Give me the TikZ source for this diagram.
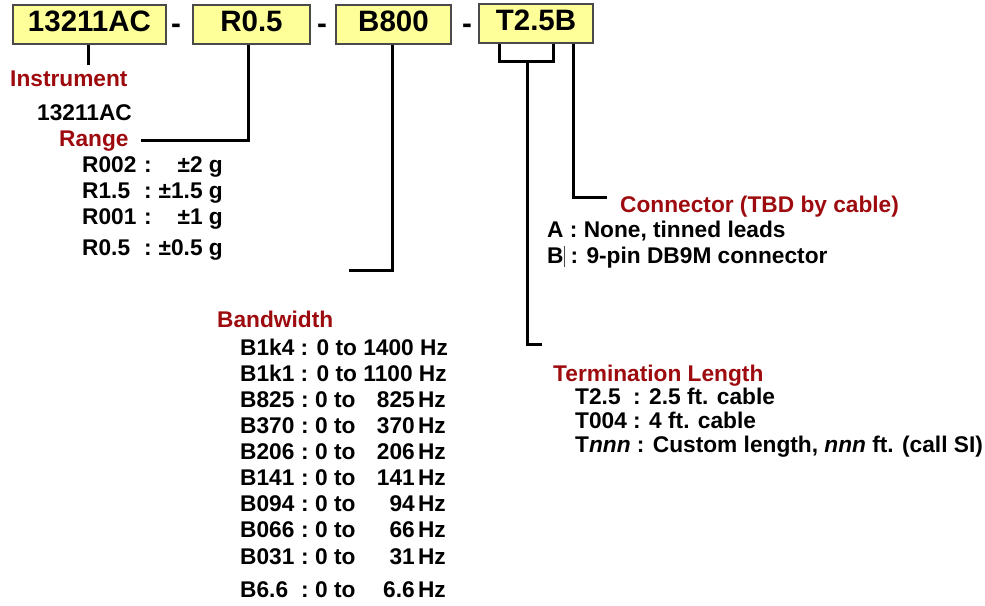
\documentclass[tikz,border=0pt]{standalone}
\usepackage{fontspec}
\setmainfont{Liberation Sans}
\usetikzlibrary{positioning,calc}
\definecolor{PartYellow}{HTML}{FFFF99}
\definecolor{PartEdge}{HTML}{4A4A4A}
\definecolor{FieldRed}{HTML}{9E0B0F}

\begin{document}
\begin{tikzpicture}[x=1pt,y=-1pt,
      field/.style={draw=PartEdge,line width=1.3pt,fill=PartYellow,
                    minimum height=39pt,inner sep=0pt,text height=20pt,text depth=6pt,
                    font=\fontsize{29.5}{31}\selectfont\bfseries},
      hyph/.style={anchor=base,inner sep=0pt,font=\fontsize{29.5}{31}\selectfont\bfseries},
      head/.style={anchor=base west,inner sep=0pt,text=FieldRed,
                   font=\fontsize{22.7}{26}\selectfont\bfseries},
      item/.style={anchor=base west,inner sep=0pt,font=\fontsize{22.7}{26}\selectfont\bfseries},
      lead/.style={line width=3pt},
    ]
    \useasboundingbox (0,0) rectangle (985,605);

    % part number fields
    \node[field,minimum width=153pt] (inst) at (89.5,24.5)  {13211AC\hspace{6pt}};
    \node[field,minimum width=117pt] (rng)  at (251.5,24.5) {R0.5};
    \node[field,minimum width=115pt] (bw)   at (393.5,24.5) {B800};
    \node[field,minimum width=114pt] (trm)  at (536,23.5)   {T2.5B};
    \node[hyph] (d1) at (176,33) {-};
    \node[hyph] (d2) at (322,33) {-};
    \node[hyph] (d3) at (467,33) {-};

    % field headings
    \node[head] (instlbl) at (10,86)  {Instrument};
    \node[item] (instval) at (37,120) {13211AC};
    \node[head] (rnglbl)  at (59,146) {Range};
    \node[head] (bwlbl)   at (217,327) {Bandwidth};
    \node[head] (conlbl)  at (620,212) {Connector (TBD by cable)};
    \node[head] (trmlbl)  at (553,381) {Termination Length};

    % leads
    \coordinate (instend) at (88,65);
    \coordinate (rngend)  at (141,140);
    \coordinate (bwend)   at (349,270);
    \coordinate (brk)     at (527,61);
    \coordinate (trmend)  at (542,344);
    \coordinate (conend)  at (607,197);
    \draw[lead] (inst.south -| instend) -- (instend);
    \draw[lead] ([xshift=-3pt]rng.south) |- (rngend);
    \draw[lead] ([xshift=-1pt]bw.south) |- (bwend);
    \draw[lead] ([xshift=-37pt]trm.south) |- (brk) -| ([xshift=17pt]trm.south);
    \draw[lead] (brk) |- (trmend);
    \draw[lead] ([xshift=37pt]trm.south) |- (conend);

    % range options
    \foreach \code/\val/\yb [count=\i] in {R002/±2 g/172,R1.5/±1.5 g/198,R001/±1 g/224,R0.5/±0.5 g/255}{
      \node[item] (rc\i) at (82,\yb) {\code};
      \node[item] (rs\i) at (144,\yb) {:};
      \node[item,anchor=base east] (rv\i) at (223,\yb) {\val};
    }

    % bandwidth options
    \node[item] (bc1) at (240,355) {B1k4 : 0 to 1400 Hz};
    \node[item] (bc2) at (240,381) {B1k1 : 0 to 1100 Hz};
    \foreach \code/\num/\yb [count=\i from 3] in {B825/825/407,B370/370/433,B206/206/459,
        B141/141/485,B094/94/511,B066/66/537,B031/31/564,B6.6/6.6/597}{
      \node[item] (bc\i) at (240,\yb) {\code};
      \node[item] (bs\i) at (301,\yb) {:};
      \node[item] (bt\i) at (315,\yb) {0 to};
      \node[item,anchor=base east] (bn\i) at (415,\yb) {\num};
      \node[item,anchor=base east] (bh\i) at (446,\yb) {Hz};
    }

    % connector options
    \node[item] (cona) at (547,237) {A : None, tinned leads};
    \node[item] (conb) at (547,263) {B\textcolor{PartEdge}{\rule[-4pt]{0.7pt}{21pt}} : 9-pin DB9M connector};

    % termination options
    \node[item] (ta) at (575,404) {T2.5\ \ : 2.5 ft. cable};
    \node[item] (tb) at (575,428) {T004 : 4 ft. cable};
    \node[item] (tc) at (575,452) {T\textit{nnn} : Custom length, \textit{nnn} ft. (call SI)};
  \end{tikzpicture}
\end{document}
